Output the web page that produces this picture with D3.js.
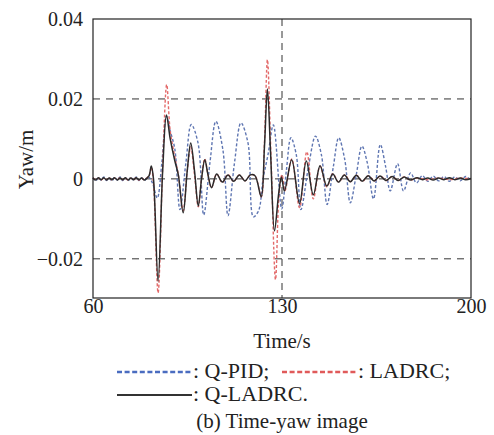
<!DOCTYPE html>
<html>
<head>
  <meta charset="utf-8">
  <script src="https://d3js.org/d3.v7.min.js"></script>
  <style>
    body { margin: 0; background: #fff; }
    text { font-family: "Liberation Serif", "Times New Roman", serif; fill: #222; }
  </style>
</head>
<body>
  <div id="chart"></div>
  <script>
    // time (s) and yaw (m)
    var qpidTime = [60, 61, 62, 63, 64, 65, 66, 67, 68, 69, 70, 71, 72, 73, 74, 75, 76, 77, 78, 79, 80.5,
      82.0, 83.8, 85.5, 87.2, 88.6, 90.3, 92.2, 94.4, 96.4, 98.9, 101.0, 103.3, 105.5, 108.1, 110.0,
      112.4, 114.8, 117.4, 119.4, 121.3, 123.0, 124.8, 126.8, 129.9, 131.6, 133.3, 135.3, 137.0,
      139.8, 142.4, 144.6, 146.7, 149.0, 151.0, 153.2, 155.3, 157.5, 159.6, 161.6, 163.9, 166.4,
      168.4, 170.1, 172.8, 175.0, 177.6, 179.8, 182, 184, 186, 188, 190, 192, 194, 196, 198, 200];
    var qpidYaw = [0.0003, -0.0005, 0.0004, -0.0003, 0.0005, -0.0004, 0.0002, -0.0005, 0.0004, -0.0003, 0.0005, -0.0004, 0.0003, -0.0005, 0.0004, -0.0003, 0.0005, -0.0004, 0.0003, -0.0004, 0.0005,
      -0.001, -0.0048, 0.004, 0.0157, 0.012, 0.0075, -0.0077, 0.004, 0.0136, 0.009, -0.009, 0.004, 0.0144, 0.0073, -0.0092,
      0.004, 0.014, 0.009, -0.0095, -0.008, 0.0, 0.006, 0.0135, -0.0075, 0.002, 0.0103, 0.006, -0.0077,
      0.003, 0.0107, 0.006, -0.0064, 0.003, 0.0103, 0.005, -0.006, 0.001, 0.0082, 0.004, -0.005, 0.0086,
      0.003, -0.003, 0.0038, -0.003, 0.0015, -0.001, 0.0008, -0.0006, 0.0007, -0.0005, 0.0006, -0.0006, 0.0005, -0.0005, 0.0006, -0.0003];

    var ladrcTime = [60, 61, 62, 63, 64, 65, 66, 67, 68, 69, 70, 71, 72, 73, 74, 75, 76, 77, 78, 79, 80,
      80.8, 81.6, 82.4, 84.1, 85.8, 87.3, 88.6, 90.3, 91.6, 93.4, 94.9, 96.2, 97.6, 99.0, 100.2,
      101.4, 102.6, 103.9, 105.8, 107.9, 110.0, 112.1, 114.2, 116.3, 118.3, 120.0, 122.3, 123.5,
      124.6, 126.0, 127.6, 128.9, 130.0, 131.1, 133.6, 136.5, 139.2, 141.6, 144.1, 146.6, 148.8,
      151.0, 153.2, 155.4, 157.6, 159.8, 162.0, 164.2, 166.4, 168.6, 170.8, 173.0, 175.3, 177.5,
      180, 184, 188, 192, 196, 200];
    var ladrcYaw = [0.0003, -0.0002, 0.0002, -0.0003, 0.0002, -0.0002, 0.0003, -0.0003, 0.0002, -0.0002, 0.0003, -0.0002, 0.0002, -0.0003, 0.0002, -0.0002, 0.0003, -0.0003, 0.0002, -0.0002, 0.0003,
      0.0008, 0.003, -0.001, -0.0285, 0.003, 0.0236, 0.012, 0.0055, 0.001, -0.008, 0.002, 0.008, 0.001, -0.007, 0.0,
      0.0050, 0.001, -0.0022, 0.0012, -0.0009, 0.0011, -0.0006, 0.0010, -0.0005, 0.0010, 0.0008, -0.0045, 0.009,
      0.0298, 0.004, -0.0252, -0.004, 0.001, -0.003, 0.0050, -0.0072, 0.0068, -0.0050, 0.0032, -0.0020, 0.0013,
      -0.0008, 0.0010, -0.0007, 0.0009, -0.0006, 0.0008, -0.0005, 0.0007, -0.0004, 0.0006, -0.0004, 0.0005, -0.0003,
      0.0002, -0.0002, 0.0002, -0.0002, 0.0002, 0.0];

    var qladrcTime = [60, 61, 62, 63, 64, 65, 66, 67, 68, 69, 70, 71, 72, 73, 74, 75, 76, 77, 78, 79, 80,
      80.8, 81.6, 82.4, 84.1, 85.8, 87.2, 88.6, 90.3, 91.6, 93.4, 94.9, 96.2, 97.6, 99.0, 100.2,
      101.4, 102.6, 103.9, 105.8, 107.9, 110.0, 112.1, 114.2, 116.3, 118.3, 120.0, 122.3, 123.5,
      124.6, 125.8, 127.2, 128.8, 129.8, 130.9, 133.6, 136.5, 139.0, 141.6, 144.1, 146.6, 148.8,
      150.9, 153.1, 155.3, 157.5, 159.7, 161.9, 164.1, 166.3, 168.5, 170.8, 173.0, 175.3, 177.5,
      180, 182, 184, 186, 188, 190, 192, 194, 196, 198, 200];
    var qladrcYaw = [0.0002, -0.0003, 0.0003, -0.0002, 0.0003, -0.0003, 0.0002, -0.0002, 0.0003, -0.0003, 0.0002, -0.0002, 0.0003, -0.0003, 0.0002, -0.0002, 0.0003, -0.0002, 0.0002, -0.0003, 0.0002,
      0.0008, 0.0032, 0.0, -0.0256, 0.002, 0.016, 0.010, 0.0045, 0.001, -0.0085, 0.002, 0.009, 0.002, -0.0068, 0.0,
      0.0048, 0.001, -0.0022, 0.0012, -0.0008, 0.0010, -0.0006, 0.0010, -0.0005, 0.0010, 0.0008, -0.0045, 0.008,
      0.0225, 0.006, -0.0130, -0.0035, 0.0005, -0.003, 0.0048, -0.0062, 0.0045, -0.0040, 0.0033, -0.0018, 0.0012,
      -0.0008, 0.0010, -0.0007, 0.0009, -0.0006, 0.0008, -0.0005, 0.0007, -0.0004, 0.0006, -0.0004, 0.0005, -0.0003,
      0.0003, -0.0002, 0.0002, -0.0003, 0.0002, -0.0002, 0.0003, -0.0002, 0.0002, -0.0002, 0.0001];

    var xTicks = [60, 130, 200];
    var yTicks = [-0.02, 0, 0.02, 0.04];
    var legendNames = ["Q-PID", "LADRC", "Q-LADRC"];

    var width = 494, height = 435;
    var mLeft = 93, mRight = 471, mTop = 19, mBottom = 298;

    var svg = d3.select("#chart").append("svg")
      .attr("width", width)
      .attr("height", height);

    var x = d3.scaleLinear().domain([60, 200]).range([mLeft, mRight]);
    var y = d3.scaleLinear().domain([-0.0298, 0.04]).range([mBottom, mTop]);

    var fmt = function(d) { return d === 0 ? "0" : d3.format(".2f")(d).replace("-", "\u2212"); };

    // dashed grid
    svg.append("g").selectAll("line")
      .data([-0.02, 0, 0.02]).enter()
      .append("line")
      .attr("x1", mLeft).attr("x2", mRight)
      .attr("y1", d => y(d)).attr("y2", d => y(d))
      .attr("stroke", "#333").attr("stroke-width", 1)
      .attr("stroke-dasharray", "7,6");
    svg.append("line")
      .attr("x1", x(130)).attr("x2", x(130))
      .attr("y1", mTop).attr("y2", mBottom)
      .attr("stroke", "#333").attr("stroke-width", 1)
      .attr("stroke-dasharray", "7,5");

    var line = d3.line()
      .x(d => x(d[0]))
      .y(d => y(d[1]))
      .curve(d3.curveCatmullRom.alpha(0.5));

    var series = [
      { t: qpidTime, v: qpidYaw, color: "#5f76b2", width: 1.4, dash: "3,2" },
      { t: ladrcTime, v: ladrcYaw, color: "#e36a6a", width: 1.4, dash: "3,2" },
      { t: qladrcTime, v: qladrcYaw, color: "#2b2b2b", width: 1.5, dash: null }
    ];

    svg.append("g").selectAll("path")
      .data(series).enter()
      .append("path")
      .attr("d", s => line(s.t.map((t, i) => [t, s.v[i]])))
      .attr("fill", "none")
      .attr("stroke", s => s.color)
      .attr("stroke-width", s => s.width)
      .attr("stroke-dasharray", s => s.dash);

    // frame
    svg.append("rect")
      .attr("x", mLeft).attr("y", mTop)
      .attr("width", mRight - mLeft).attr("height", mBottom - mTop)
      .attr("fill", "none").attr("stroke", "#222").attr("stroke-width", 1.2);

    // axes
    var xAxis = d3.axisBottom(x).tickValues(xTicks).tickSize(0).tickPadding(0);
    var yAxis = d3.axisLeft(y).tickValues(yTicks).tickSize(0).tickPadding(10).tickFormat(fmt);

    var gx = svg.append("g")
      .attr("transform", "translate(0," + mBottom + ")")
      .call(xAxis);
    gx.select(".domain").remove();
    gx.selectAll("text")
      .attr("dy", null).attr("y", 15)
      .attr("font-size", 20).attr("font-family", "Liberation Serif").attr("fill", "#222");

    var gy = svg.append("g")
      .attr("transform", "translate(" + mLeft + ",0)")
      .call(yAxis);
    gy.select(".domain").remove();
    gy.selectAll("text")
      .attr("dy", "0.34em")
      .attr("font-size", 20).attr("font-family", "Liberation Serif").attr("fill", "#222");

    svg.append("text")
      .attr("x", x(130)).attr("y", 348)
      .attr("text-anchor", "middle").attr("font-size", 21)
      .text("Time/s");

    svg.append("text")
      .attr("transform", "translate(33," + ((mTop + mBottom) / 2 + 1) + ") rotate(-90)")
      .attr("text-anchor", "middle").attr("font-size", 21)
      .text("Yaw/m");

    // legend
    var legend = [
      { x: 117, y: 372, name: legendNames[0] + ";", color: "#4a6cc0", dash: "5,2.6", w: 2.6 },
      { x: 282, y: 372, name: legendNames[1] + ";", color: "#e05a5a", dash: "5,2.6", w: 2.6 },
      { x: 117, y: 395, name: legendNames[2] + ".", color: "#333", dash: null, w: 2 }
    ];
    var lg = svg.append("g").selectAll("g").data(legend).enter().append("g");
    lg.append("line")
      .attr("x1", d => d.x).attr("x2", d => d.x + 75)
      .attr("y1", d => d.y).attr("y2", d => d.y)
      .attr("stroke", d => d.color).attr("stroke-width", d => d.w)
      .attr("stroke-dasharray", d => d.dash);
    lg.append("text")
      .attr("x", d => d.x + 76).attr("y", d => d.y + 6)
      .attr("font-size", 22)
      .text(d => ": " + d.name);

    svg.append("text")
      .attr("x", 282).attr("y", 428)
      .attr("text-anchor", "middle").attr("font-size", 21)
      .text("(b) Time-yaw image");
  </script>
</body>
</html>
